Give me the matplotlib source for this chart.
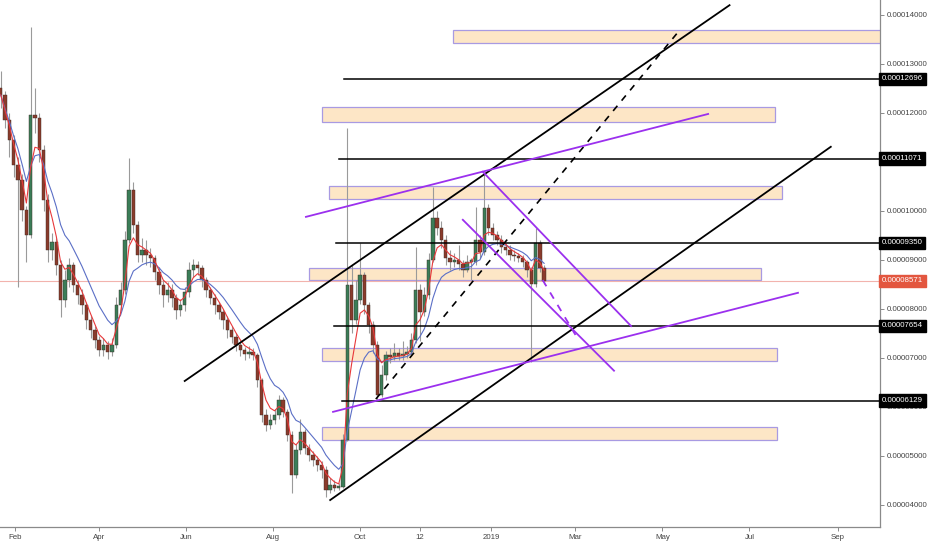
import matplotlib
matplotlib.use("Agg")
import matplotlib.pyplot as plt
import matplotlib.dates as mdates
from matplotlib.patches import Rectangle
import pandas as pd

plt.rcParams["font.family"] = ["Liberation Sans Narrow", "Liberation Sans", "DejaVu Sans"]

# ── Price data (units of 1e-5), one candle per 3 days ──────────────────────────
first_date = "2018-01-22"
first_open = 12.50
closes = [
    12.37, 11.86, 11.45, 10.94, 10.63, 10.02, 9.51, 11.96, 11.90, 11.24,
    10.22, 9.20, 9.37, 8.90, 8.18, 8.59, 8.90, 8.49, 8.29, 8.08,
    7.78, 7.57, 7.37, 7.16, 7.27, 7.12, 7.27, 8.08, 8.39, 9.41,
    10.43, 9.71, 9.10, 9.20, 9.10, 9.04, 8.76, 8.49, 8.29, 8.39,
    8.22, 7.98, 8.08, 8.35, 8.80, 8.90, 8.84, 8.59, 8.39, 8.22,
    8.08, 7.94, 7.78, 7.57, 7.43, 7.27, 7.16, 7.08, 7.12, 7.06,
    6.55, 5.84, 5.63, 5.73, 5.84, 6.14, 5.90, 5.43, 4.61, 5.12,
    5.49, 5.16, 5.02, 4.92, 4.82, 4.71, 4.31, 4.41, 4.35, 4.37,
    5.33, 8.49, 7.78, 8.18, 8.69, 8.08, 7.67, 7.27, 6.24, 6.65,
    7.06, 7.02, 7.10, 7.04, 7.08, 7.12, 7.37, 8.39, 7.94, 8.29,
    9.00, 9.86, 9.65, 9.41, 9.04, 8.96, 9.00, 8.92, 8.80, 8.96,
    8.96, 9.41, 9.16, 10.06, 9.65, 9.51, 9.41, 9.27, 9.20, 9.10,
    9.08, 9.04, 8.96, 8.80, 8.51, 9.35, 8.84, 8.57,
]
highs = [
    12.85, 12.45, 12.00, 11.55, 11.10, 10.75, 10.10, 13.76, 12.50, 12.00,
    11.35, 10.35, 9.55, 9.45, 9.00, 8.80, 9.05, 8.95, 8.60, 8.40,
    8.15, 7.85, 7.65, 7.45, 7.40, 7.35, 7.40, 8.25, 8.55, 9.60,
    11.08, 10.60, 9.80, 9.45, 9.40, 9.25, 9.10, 8.85, 8.60, 8.55,
    8.50, 8.30, 8.20, 8.45, 8.95, 9.02, 8.98, 8.90, 8.65, 8.45,
    8.30, 8.15, 8.00, 7.85, 7.65, 7.50, 7.35, 7.22, 7.25, 7.20,
    7.10, 6.60, 5.95, 5.85, 5.95, 6.25, 6.20, 5.95, 5.50, 5.25,
    5.75, 5.55, 5.25, 5.10, 5.00, 4.90, 4.80, 4.55, 4.50, 4.45,
    5.45, 11.69, 8.90, 8.60, 9.35, 8.75, 8.15, 7.75, 7.35, 6.85,
    7.15, 7.20, 7.30, 7.20, 7.35, 7.25, 7.50, 9.27, 8.50, 8.45,
    9.15, 10.49, 10.00, 9.80, 9.50, 9.20, 9.15, 9.30, 9.00, 9.10,
    9.05, 10.08, 9.50, 10.76, 10.15, 9.75, 9.60, 9.50, 9.35, 9.30,
    9.20, 9.15, 9.10, 9.00, 8.85, 9.65, 9.40, 8.90,
]
lows = [
    12.10, 11.70, 11.10, 10.70, 8.45, 9.80, 8.95, 9.45, 11.60, 11.00,
    10.00, 8.95, 9.00, 8.70, 7.84, 8.05, 8.45, 8.35, 8.10, 7.90,
    7.60, 7.40, 7.20, 7.05, 7.05, 6.98, 7.05, 7.20, 7.95, 8.30,
    9.35, 9.55, 8.95, 8.95, 8.90, 8.85, 8.60, 8.30, 8.05, 8.15,
    8.05, 7.80, 7.85, 7.95, 8.25, 8.65, 8.70, 8.45, 8.25, 8.10,
    7.90, 7.80, 7.60, 7.40, 7.30, 7.15, 7.05, 6.95, 7.00, 6.95,
    6.40, 5.70, 5.50, 5.55, 5.65, 5.75, 5.80, 5.30, 4.24, 4.55,
    5.05, 5.05, 4.90, 4.80, 4.70, 4.55, 4.16, 4.25, 4.28, 4.30,
    4.35, 5.30, 7.50, 7.70, 8.10, 7.90, 7.50, 7.10, 6.14, 6.20,
    6.55, 6.90, 6.95, 6.95, 6.95, 7.00, 7.05, 7.30, 7.35, 7.85,
    8.20, 8.95, 9.50, 9.25, 8.90, 8.80, 8.85, 8.80, 8.65, 8.75,
    8.60, 8.90, 9.05, 9.10, 9.50, 9.40, 9.30, 9.15, 9.10, 9.00,
    8.98, 8.95, 8.85, 8.65, 6.92, 8.45, 8.75, 8.50,
]
last_price = 8.571

# ── Drawings ─────────────────────────────────────────────────────────────────
hline_prices = [12.696, 11.071, 9.350, 7.654, 6.129]
hline_starts = ["2018-09-20", "2018-09-16", "2018-09-14", "2018-09-13", "2018-09-18"]

zone_starts = ["2018-12-05", "2018-09-04", "2018-09-09", "2018-08-26", "2018-09-04", "2018-09-04"]
zone_ends = ["2019-10-15", "2019-07-19", "2019-07-24", "2019-07-09", "2019-07-20", "2019-07-20"]
zone_lows = [13.43, 11.82, 10.25, 8.59, 6.94, 5.33]
zone_highs = [13.69, 12.12, 10.51, 8.84, 7.20, 5.59]

black_lines = [(("2018-05-31", 6.53), ("2019-06-17", 14.20)),
               (("2018-09-10", 4.10), ("2019-08-27", 11.31))]
black_dashed = [(("2018-10-12", 6.16), ("2019-05-13", 13.69))]
purple_lines = [(("2018-08-24", 9.88), ("2019-06-02", 11.98)),
                (("2018-09-12", 5.90), ("2019-08-04", 8.33)),
                (("2018-12-26", 10.80), ("2019-04-09", 7.65)),
                (("2018-12-12", 9.82), ("2019-03-28", 6.74))]
purple_dashed = [(("2019-02-06", 8.59), ("2019-03-01", 7.47))]

tick_dates = ["2018-02-01", "2018-04-01", "2018-06-01", "2018-08-01", "2018-10-01",
              "2018-11-12", "2019-01-01", "2019-03-01", "2019-05-01", "2019-07-01",
              "2019-09-01"]
tick_names = ["Feb", "Apr", "Jun", "Aug", "Oct", "12", "2019", "Mar", "May", "Jul", "Sep"]
y_ticks = [4, 5, 6, 7, 8, 9, 10, 12, 13, 14]

UP, DOWN, WICK = "#3b7d58", "#8a3b2c", "#9a9a9a"
PURPLE = "#9b30ee"
FS = 5.7

dates = pd.date_range(first_date, periods=len(closes), freq="3D")
x = mdates.date2num(dates)
opens = [first_open] + closes[:-1]
ema_fast = pd.Series(closes).ewm(span=4).mean()
ema_slow = pd.Series(closes).ewm(span=10).mean()


def d(s):
    return mdates.date2num(pd.Timestamp(s))


fig = plt.figure(figsize=(9.32, 5.5), dpi=100)
ax = fig.add_axes([0, 23 / 550, 880 / 932, 527 / 550])

x0 = d("2018-02-01")
ax.set_xlim(x0 - 10.5, x0 + 606.5)
ax.set_ylim(3.55, 14.306)

# zones
for s, e, lo, hi in zip(zone_starts, zone_ends, zone_lows, zone_highs):
    ax.add_patch(Rectangle((d(s), lo), d(e) - d(s), hi - lo, facecolor="#fde6c6",
                           edgecolor="#a89ae2", lw=0.9, zorder=1))

# last price line
ax.axhline(last_price, color="#f2b3ad", lw=0.8, zorder=1.5)

# candles
for xi, o, c, h, l in zip(x, opens, closes, highs, lows):
    col = UP if c >= o else DOWN
    ax.vlines(xi, l, h, color=WICK, lw=0.8, zorder=2)
    ax.bar(xi, max(abs(c - o), 0.03), bottom=min(o, c), width=2.4, color=col,
           edgecolor="#3a2a22", lw=0.3, zorder=3)

ax.plot(x, ema_slow, color="#5b6fc6", lw=0.8, zorder=4)
ax.plot(x, ema_fast, color="#e8383a", lw=0.8, zorder=4)

# horizontal levels
for p, s in zip(hline_prices, hline_starts):
    ax.plot([d(s), ax.get_xlim()[1]], [p, p], color="black", lw=1.1, zorder=5)

for (a, b) in black_lines:
    ax.plot([d(a[0]), d(b[0])], [a[1], b[1]], color="black", lw=1.3, zorder=5)
for (a, b) in black_dashed:
    ax.plot([d(a[0]), d(b[0])], [a[1], b[1]], color="black", lw=1.2,
            dashes=(4, 4), zorder=5)
for (a, b) in purple_lines:
    ax.plot([d(a[0]), d(b[0])], [a[1], b[1]], color=PURPLE, lw=1.3, zorder=5)
for (a, b) in purple_dashed:
    ax.plot([d(a[0]), d(b[0])], [a[1], b[1]], color=PURPLE, lw=1.3,
            dashes=(4, 4), zorder=5)

# axes styling
for side in ["top", "left"]:
    ax.spines[side].set_visible(False)
for side in ["right", "bottom"]:
    ax.spines[side].set_color("#8a8a8a")
    ax.spines[side].set_linewidth(0.9)

ax.yaxis.tick_right()
ax.set_yticks(y_ticks)
ax.set_yticklabels([f"{v * 1e-5:.8f}" for v in y_ticks])
ax.set_xticks([d(t) for t in tick_dates])
ax.set_xticklabels(tick_names)
ax.tick_params(axis="both", labelsize=FS, colors="#8a8a8a", labelcolor="#444444",
               length=3, width=0.7, pad=2)

# price badges on the right scale
trans = ax.get_yaxis_transform()
for p in hline_prices:
    ax.text(1.002, p, f"{p * 1e-5:.8f}", transform=trans, ha="left", va="center",
            fontsize=FS, color="white", clip_on=False, zorder=10,
            bbox=dict(boxstyle="square,pad=0.35", fc="black", ec="black"))
ax.text(1.002, last_price, f"{last_price * 1e-5:.8f}", transform=trans, ha="left",
        va="center", fontsize=FS, color="white", clip_on=False, zorder=10,
        bbox=dict(boxstyle="square,pad=0.35", fc="#e3563f", ec="#e3563f"))

fig.savefig("out.png", dpi=100)
